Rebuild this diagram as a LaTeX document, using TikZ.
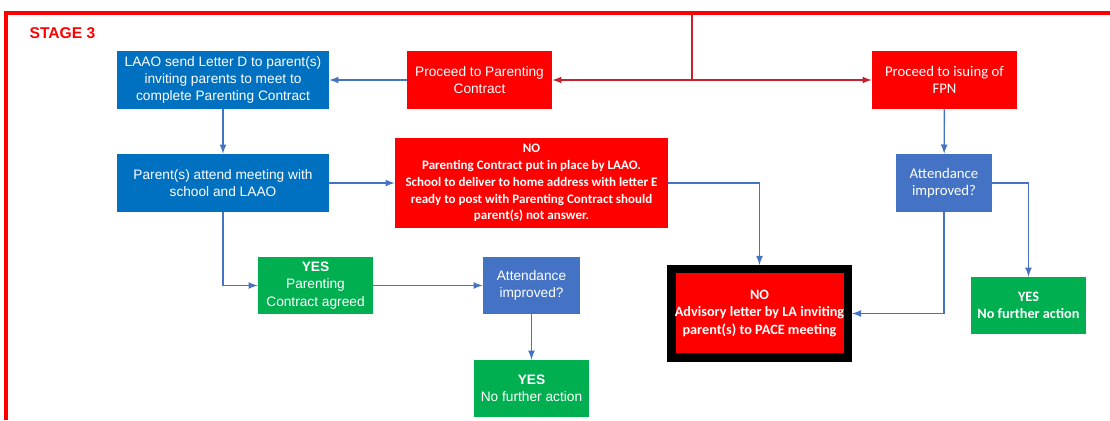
\documentclass[tikz,border=0pt]{standalone}
\usepackage{fontspec}
\setmainfont{Liberation Sans}
\newfontfamily\calibri{Carlito}
\usetikzlibrary{arrows}

\definecolor{boxblue}{HTML}{0070C0}
\definecolor{lightblue}{HTML}{4472C4}
\definecolor{boxred}{HTML}{FF0000}
\definecolor{boxgreen}{HTML}{00B050}
\definecolor{linkred}{HTML}{C8202C}

\tikzset{
    flowbox/.style={text=white, align=center, inner sep=0pt, font=\fontsize{7.8}{9.9}\selectfont},
    bluebox/.style={flowbox, fill=boxblue},
    paleblue/.style={flowbox, fill=lightblue},
    redbox/.style={flowbox, fill=boxred},
    greenbox/.style={flowbox, fill=boxgreen},
    smallbold/.style={font=\calibri\bfseries\fontsize{7.4}{9.6}\selectfont},
    bigbold/.style={font=\calibri\bfseries\fontsize{8.1}{9.9}\selectfont},
    calibtext/.style={font=\calibri\fontsize{8.4}{9.9}\selectfont},
    link/.style={draw=lightblue, line width=0.8pt, -latex},
    redlink/.style={draw=linkred, line width=0.8pt}
}

\begin{document}
\begin{tikzpicture}
        \useasboundingbox (0,0) rectangle (22.2,8.4);

        % frame
        \draw[boxred, line width=0.09cm] (0.12,0) -- (0.12,8.14) -- (22.3,8.14);
        \node[text=boxred, font=\bfseries\fontsize{8.9}{10}\selectfont] at (1.25,7.74) (stage) {STAGE 3};

        % top row
        \node[bluebox, minimum width=4.24cm, minimum height=1.16cm] at (4.46,6.80) (letterd) {LAAO send Letter D to parent(s)\\inviting parents to meet to\\complete Parenting Contract};
        \node[redbox, minimum width=2.90cm, minimum height=1.16cm] at (9.59,6.80) (contract) {Proceed to Parenting\\Contract};
        \node[redbox, calibtext, minimum width=2.90cm, minimum height=1.16cm] at (18.89,6.80) (fpn) {Proceed to isuing of\\FPN};
        \coordinate (top) at (13.84,8.14);
        \coordinate (split) at (13.84,6.80);
        \draw[redlink] (top) -- (split);
        \draw[redlink, latex-latex] (contract) -- (fpn);
        \draw[link] (contract) -- (letterd);

        % middle row
        \node[bluebox, minimum width=4.24cm, minimum height=1.16cm] at (4.46,4.74) (meeting) {Parent(s) attend meeting with\\school and LAAO};
        \node[redbox, smallbold, minimum width=5.46cm, minimum height=1.80cm] at (10.63,4.74) (nocontract) {NO\\Parenting Contract put in place by LAAO.\\School to deliver to home address with letter E\\ready to post with Parenting Contract should\\parent(s) not answer.};
        \node[paleblue, calibtext, minimum width=1.92cm, minimum height=1.16cm] at (18.88,4.74) (improvedb) {Attendance\\improved?};
        \draw[link] (letterd) -- (meeting);
        \draw[link] (meeting) -- (nocontract);
        \draw[link] (fpn) -- (improvedb);

        % bottom rows
        \node[greenbox, minimum width=2.30cm, minimum height=1.14cm] at (6.31,2.69) (agreed) {\textbf{YES}\\Parenting\\Contract agreed};
        \node[paleblue, minimum width=1.94cm, minimum height=1.14cm] at (10.63,2.69) (improveda) {Attendance\\improved?};
        \node[greenbox, minimum width=2.30cm, minimum height=1.14cm] at (10.63,0.63) (yesa) {\textbf{YES}\\No further action};
        \node[redbox, bigbold, draw=black, line width=0.17cm, minimum width=3.53cm, minimum height=1.77cm] at (15.19,2.13) (advisory) {NO\\Advisory letter by LA inviting\\parent(s) to PACE meeting};
        \node[greenbox, bigbold, minimum width=2.30cm, minimum height=1.14cm] at (20.57,2.29) (yesb) {YES\\No further action};
        \draw[link] (meeting.south) |- (agreed.west);
        \draw[link] (agreed) -- (improveda);
        \draw[link] (improveda) -- (yesa);
        \draw[link] (nocontract.east) -| (advisory.north);
        \draw[link] (improvedb.south) |- (advisory.east);
        \draw[link] (improvedb.east) -| (yesb.north);
\end{tikzpicture}
\end{document}
